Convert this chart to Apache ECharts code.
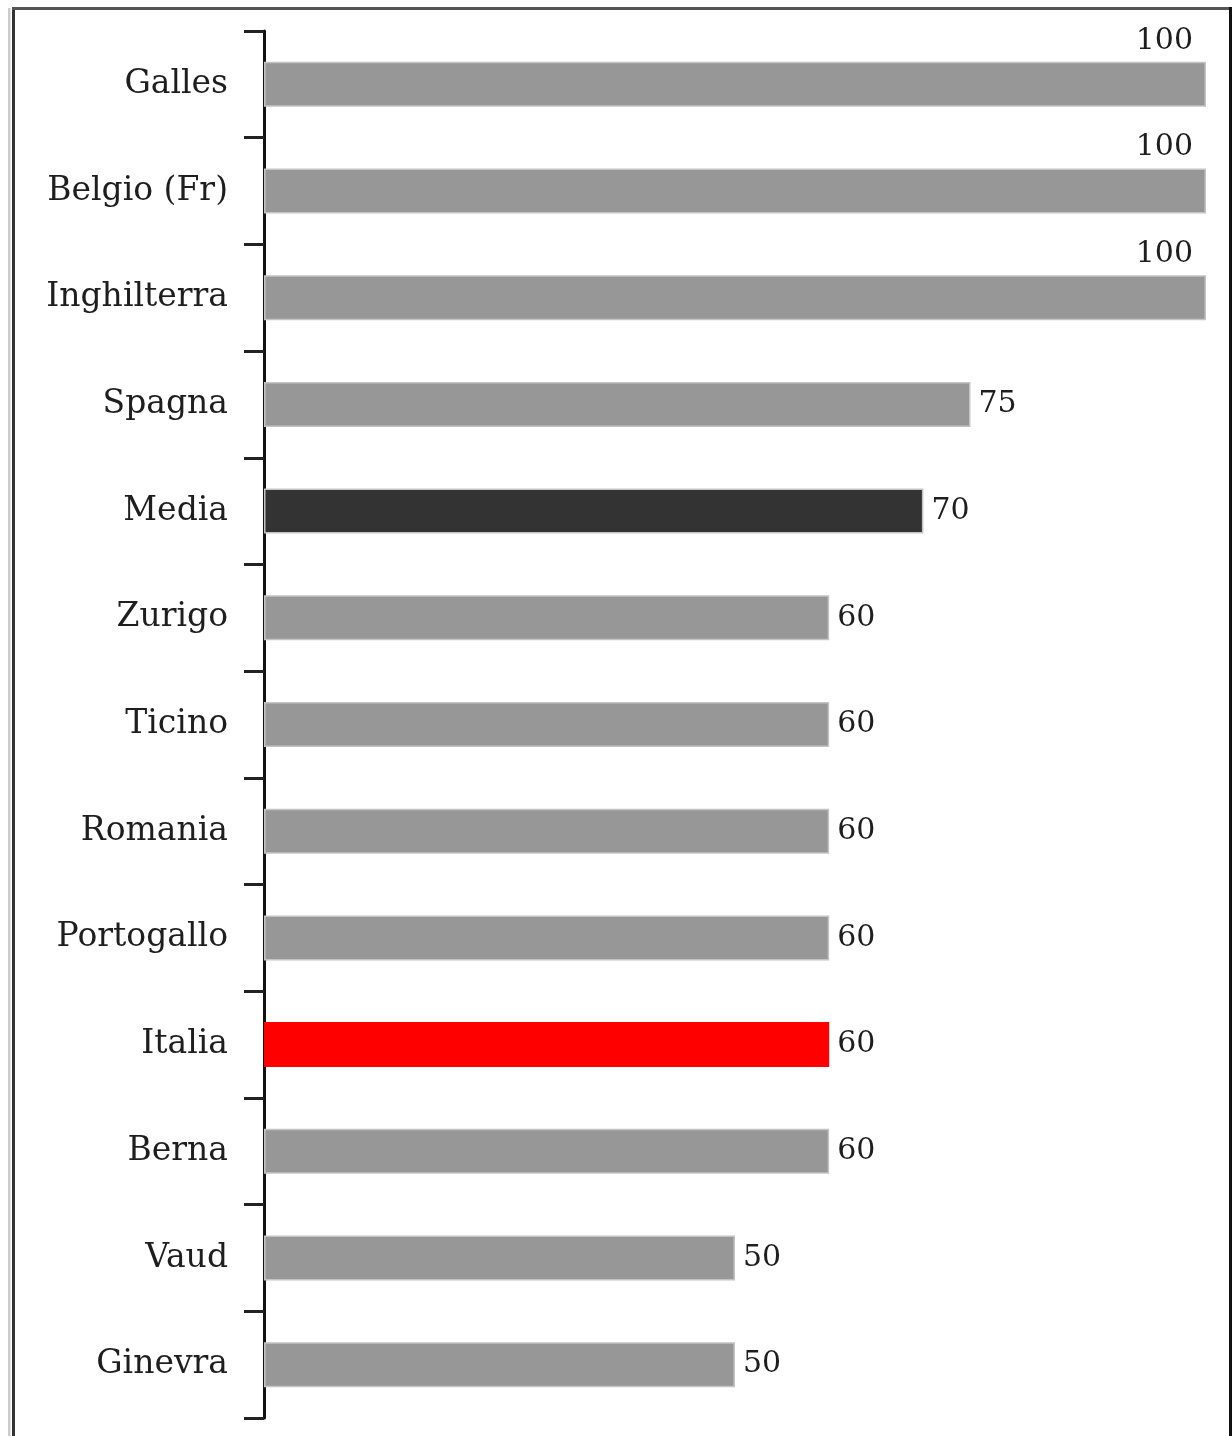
<!DOCTYPE html>
<html>
<head>
<meta charset="utf-8">
<script src="https://cdn.jsdelivr.net/npm/echarts@6/dist/echarts.min.js"></script>
<style>
html,body{margin:0;padding:0;background:#fff;}
#chart{width:1232px;height:1436px;}
</style>
</head>
<body>
<div id="chart"></div>
<script>
const categories = ['Galles','Belgio (Fr)','Inghilterra','Spagna','Media','Zurigo','Ticino','Romania','Portogallo','Italia','Berna','Vaud','Ginevra'];
const values = [100,100,100,75,70,60,60,60,60,60,60,50,50];
const averageCategory = 'Media';
const highlightCategory = 'Italia';

const FONT = '"DejaVu Serif", "Liberation Serif", serif';
const colorFor = (name) => name === averageCategory ? '#333333' : (name === highlightCategory ? '#ff0000' : '#979797');

const seriesData = categories.map((name, i) => {
  const v = values[i];
  const item = {
    value: v,
    itemStyle: { color: colorFor(name), borderColor: name === highlightCategory ? '#ff0000' : '#c4c4c4', borderWidth: 1.5 }
  };
  if (v >= 100) {
    item.label = {
      position: ['100%', 0],
      align: 'right',
      verticalAlign: 'bottom',
      offset: [-13, -6],
      distance: 0
    };
  }
  return item;
});

const chart = echarts.init(document.getElementById('chart'), null, { renderer: 'canvas' });
chart.setOption({
  backgroundColor: '#ffffff',
  animation: false,
  grid: { left: 264, right: 26, top: 31, bottom: 18, containLabel: false },
  xAxis: {
    type: 'value', min: 0, max: 100, show: false
  },
  yAxis: {
    type: 'category',
    data: categories,
    inverse: true,
    axisLine: { show: true, lineStyle: { color: '#111111', width: 3 } },
    axisTick: { show: true, length: 20, inside: false, lineStyle: { color: '#222222', width: 3 } },
    axisLabel: { fontFamily: FONT, fontSize: 33, color: '#1e1e1e', margin: 36 }
  },
  series: [{
    type: 'bar',
    data: seriesData,
    barWidth: 45,
    label: {
      show: true,
      position: 'right',
      distance: 8,
      fontFamily: FONT,
      fontSize: 30,
      color: '#1e1e1e'
    }
  }],
  graphic: [
    { type: 'rect', shape: { x: 8, y: 8, width: 2.5, height: 1436 }, style: { fill: '#cccccc' }, silent: true },
    { type: 'rect', shape: { x: 12, y: 7, width: 3, height: 1436 }, style: { fill: '#333333' }, silent: true },
    { type: 'rect', shape: { x: 12, y: 7, width: 1220, height: 3 }, style: { fill: '#555555' }, silent: true },
    { type: 'rect', shape: { x: 1229, y: 7, width: 3, height: 1436 }, style: { fill: '#111111' }, silent: true }
  ]
});
</script>
</body>
</html>
